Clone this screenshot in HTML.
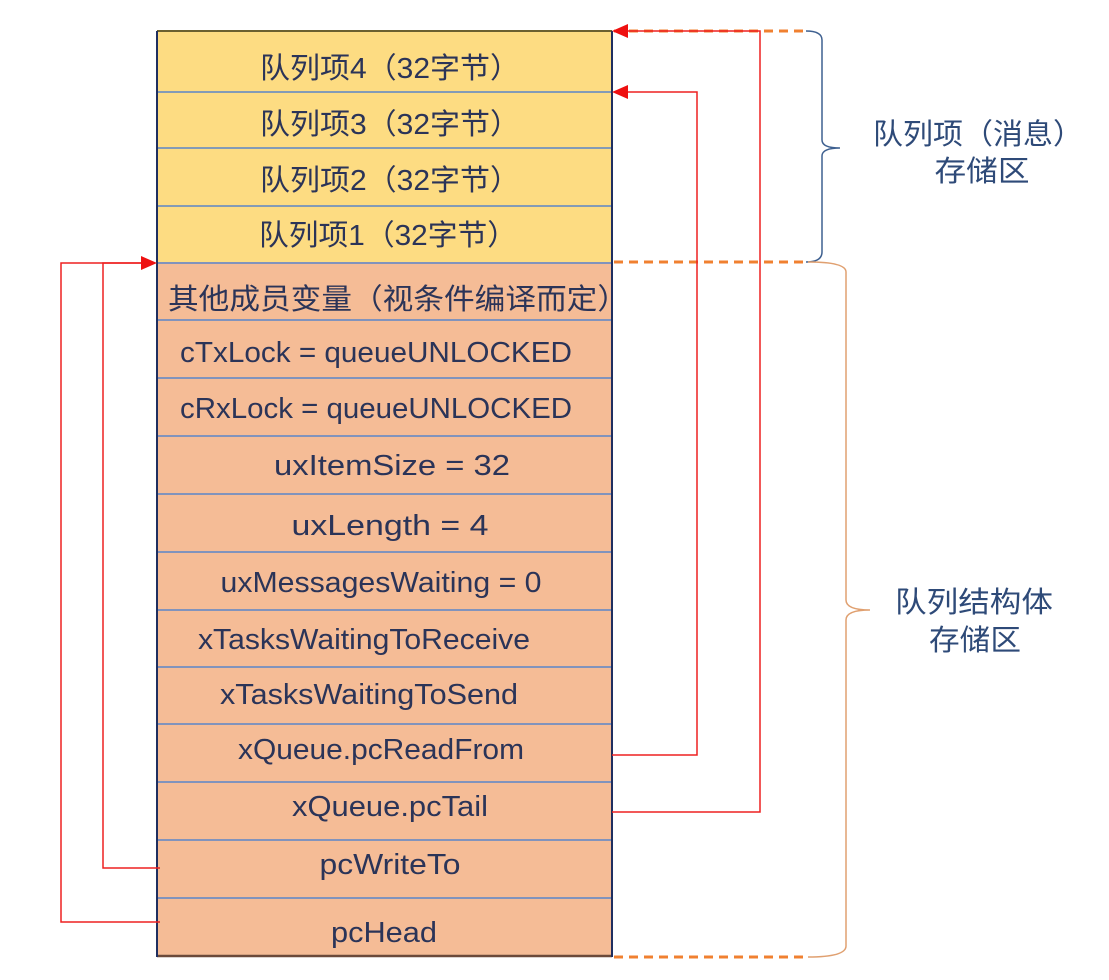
<!DOCTYPE html>
<html><head><meta charset="utf-8"><style>html,body{margin:0;padding:0;background:#fff}</style></head>
<body>
<svg width="1109" height="975" xmlns="http://www.w3.org/2000/svg" font-family="'Liberation Sans','Noto Sans CJK SC',sans-serif" fill="#2b3458">
<rect x="157" y="31" width="455" height="231" fill="#fddc82"/>
<rect x="157" y="262" width="455" height="695" fill="#f5bc96"/>
<g stroke="#5b85c8" stroke-width="1.5">
<line x1="157" y1="92" x2="612" y2="92"/><line x1="157" y1="148" x2="612" y2="148"/><line x1="157" y1="206" x2="612" y2="206"/>
<line x1="157" y1="263" x2="612" y2="263"/><line x1="157" y1="320" x2="612" y2="320"/><line x1="157" y1="378" x2="612" y2="378"/>
<line x1="157" y1="436" x2="612" y2="436"/><line x1="157" y1="494" x2="612" y2="494"/><line x1="157" y1="552" x2="612" y2="552"/>
<line x1="157" y1="610" x2="612" y2="610"/><line x1="157" y1="667" x2="612" y2="667"/><line x1="157" y1="724" x2="612" y2="724"/>
<line x1="157" y1="782" x2="612" y2="782"/><line x1="157" y1="840" x2="612" y2="840"/><line x1="157" y1="898" x2="612" y2="898"/>
</g>
<line x1="157" y1="31" x2="612" y2="31" stroke="#6b6030" stroke-width="2"/>
<line x1="157" y1="956" x2="612" y2="956" stroke="#6b4a3a" stroke-width="2.5"/>
<line x1="157" y1="31" x2="157" y2="957" stroke="#1f2f60" stroke-width="2"/>
<line x1="612" y1="31" x2="612" y2="957" stroke="#1f2f60" stroke-width="2"/>
<g stroke="#f08030" stroke-width="3" stroke-dasharray="9,6" fill="none">
<line x1="614" y1="31" x2="808" y2="31"/><line x1="614" y1="262" x2="808" y2="262"/><line x1="614" y1="957" x2="808" y2="957"/>
</g>
<path d="M806,31 Q822,31 822,40 V140 Q822,148 840,148 Q822,148 822,156 V252 Q822,262 806,262" fill="none" stroke="#3e6090" stroke-width="1.5"/>
<path d="M808,262 Q846,262 846,272 V600 Q846,610 870,610 Q846,610 846,620 V946 Q846,957 808,957" fill="none" stroke="#e0a070" stroke-width="1.5"/>
<g stroke="#ee2020" stroke-width="1.5" fill="none">
<polyline points="612,812 760,812 760,31 624,31"/>
<polyline points="612,755 697,755 697,92 624,92"/>
<polyline points="160,868 103,868 103,263 145,263"/>
<polyline points="160,922 61,922 61,263 145,263"/>
</g>
<g fill="#ee1010">
<polygon points="612,31 628,24 628,38"/><polygon points="612,92 628,85 628,99"/><polygon points="157,263 141,256 141,270"/>
</g>
<g font-size="29" text-anchor="middle" lengthAdjust="spacingAndGlyphs">
<text x="390" y="78" textLength="260" lengthAdjust="spacingAndGlyphs">队列项4（32字节）</text>
<text x="390" y="134" textLength="260" lengthAdjust="spacingAndGlyphs">队列项3（32字节）</text>
<text x="390" y="190" textLength="260" lengthAdjust="spacingAndGlyphs">队列项2（32字节）</text>
<text x="388" y="245" textLength="258" lengthAdjust="spacingAndGlyphs">队列项1（32字节）</text>
<text x="398" y="309" textLength="460" lengthAdjust="spacingAndGlyphs">其他成员变量（视条件编译而定）</text>
<text x="376" y="362" textLength="392" lengthAdjust="spacingAndGlyphs">cTxLock = queueUNLOCKED</text>
<text x="376" y="418" textLength="392" lengthAdjust="spacingAndGlyphs">cRxLock = queueUNLOCKED</text>
<text x="392" y="475" textLength="236" lengthAdjust="spacingAndGlyphs">uxItemSize = 32</text>
<text x="390" y="535" textLength="197" lengthAdjust="spacingAndGlyphs">uxLength = 4</text>
<text x="381" y="592" textLength="321" lengthAdjust="spacingAndGlyphs">uxMessagesWaiting = 0</text>
<text x="364" y="649" textLength="332" lengthAdjust="spacingAndGlyphs">xTasksWaitingToReceive</text>
<text x="369" y="704" textLength="298" lengthAdjust="spacingAndGlyphs">xTasksWaitingToSend</text>
<text x="381" y="759" textLength="286" lengthAdjust="spacingAndGlyphs">xQueue.pcReadFrom</text>
<text x="390" y="816" textLength="196" lengthAdjust="spacingAndGlyphs">xQueue.pcTail</text>
<text x="390" y="874" textLength="141" lengthAdjust="spacingAndGlyphs">pcWriteTo</text>
<text x="384" y="942" textLength="106" lengthAdjust="spacingAndGlyphs">pcHead</text>
</g>
<g font-size="29" text-anchor="middle" fill="#2e4a78">
<text x="978" y="144" textLength="210" lengthAdjust="spacingAndGlyphs">队列项（消息）</text>
<text x="982" y="181" textLength="95" lengthAdjust="spacingAndGlyphs">存储区</text>
<text x="974" y="612" textLength="158" lengthAdjust="spacingAndGlyphs">队列结构体</text>
<text x="975" y="650" textLength="92" lengthAdjust="spacingAndGlyphs">存储区</text>
</g>
</svg>
</body></html>
